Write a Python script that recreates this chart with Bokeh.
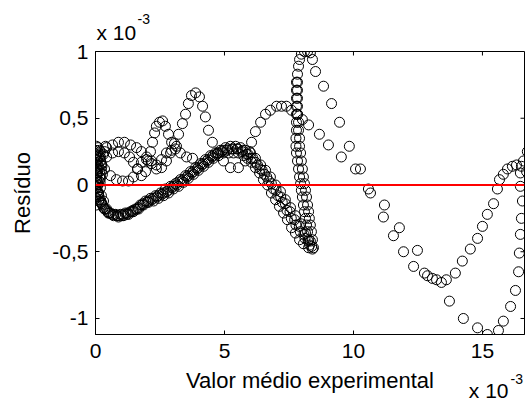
from bokeh.plotting import figure
from bokeh.models import Range1d, FixedTicker, Span, Label, Column
from bokeh.embed import file_html
from bokeh.resources import INLINE

# values in units of 1e-3 (axes show "x 10^-3")
origin_x = [0.04, 0.16, 0.04, 0.19, 0.08, 0.23, 0.04, 0.16, 0.04, 0.19, 0.08, 0.00, 0.12, 0.31, 0.39, 0.31,
            0.00, 0.08, 0.16, 0.00, 0.12, 0.23, 0.04, 0.16, 0.27, 0.08, 0.19, 0.00, 0.12, 0.04, 0.23, 0.35,
            0.10, 0.02, 0.14, 0.06, 0.20, 0.10, 0.02, 0.14, 0.25, 0.06, 0.18, 0.02]
origin_y = [0.29, 0.26, 0.23, 0.21, 0.19, 0.16, 0.13, 0.10, 0.07, 0.05, 0.02, -0.03, -0.06, -0.12, 0.29, 0.23,
            0.26, 0.24, 0.20, 0.17, 0.14, 0.11, 0.09, 0.06, 0.08, 0.00, -0.02, -0.09, -0.12, -0.15, -0.08, 0.25,
            0.28, 0.22, 0.22, 0.15, 0.18, 0.12, 0.04, 0.03, 0.14, -0.05, 0.02, -0.10]

band1_x = [0.04, 0.08, 0.16, 0.27, 0.43, 0.58, 0.78, 0.97, 1.16, 1.36, 1.55, 1.74, 1.94, 2.13, 2.33, 2.52,
           2.71, 2.91, 3.10, 3.29, 3.49, 3.68, 3.88, 4.07, 4.26, 4.46, 4.65, 4.84, 5.04, 5.23, 5.43, 5.62,
           5.81, 6.01, 6.20, 6.40, 6.59, 6.78, 6.98, 7.17, 7.36, 7.56, 7.75, 7.95, 8.14, 8.33, 8.45]
band1_y = [0.04, -0.05, -0.11, -0.15, -0.18, -0.21, -0.22, -0.22, -0.21, -0.20, -0.18, -0.15, -0.12, -0.10,
           -0.08, -0.06, -0.03, -0.01, 0.01, 0.04, 0.07, 0.10, 0.13, 0.16, 0.19, 0.22, 0.24, 0.26, 0.28,
           0.29, 0.29, 0.28, 0.26, 0.24, 0.20, 0.15, 0.11, 0.06, 0.00, -0.05, -0.11, -0.17, -0.23, -0.29,
           -0.36, -0.42, -0.47]

band2_x = [0.00, 0.12, 0.23, 0.35, 0.50, 0.70, 0.89, 1.09, 1.28, 1.47, 1.67, 1.86, 2.05, 2.25, 2.44, 2.64,
           2.83, 3.02, 3.22, 3.41, 3.60, 3.80, 3.99, 4.19, 4.38, 4.57, 4.77, 4.96, 5.16, 5.35, 5.54, 5.74,
           5.89, 6.05, 6.20, 6.36, 6.51, 6.67, 6.82, 6.98, 7.13, 7.29, 7.44, 7.60, 7.75, 7.91, 8.06, 8.26, 8.41]
band2_y = [-0.01, -0.07, -0.13, -0.18, -0.21, -0.23, -0.24, -0.23, -0.22, -0.20, -0.18, -0.15, -0.13, -0.12,
           -0.10, -0.08, -0.06, -0.03, -0.01, 0.02, 0.05, 0.08, 0.11, 0.14, 0.17, 0.20, 0.22, 0.24, 0.24,
           0.24, 0.24, 0.22, 0.20, 0.17, 0.13, 0.09, 0.04, 0.00, -0.06, -0.11, -0.16, -0.21, -0.26, -0.32,
           -0.36, -0.41, -0.44, -0.47, -0.48]

band3_x = [0.02, 0.10, 0.20, 0.31, 0.47, 0.64, 0.84, 1.03, 1.22, 1.42, 1.61, 1.80, 2.00, 2.19, 2.38, 2.58,
           2.77, 2.97, 3.16, 3.35, 3.55, 3.74, 3.94, 4.13, 4.32, 4.52, 4.71, 4.90, 5.10, 5.29, 5.48, 5.68,
           5.86, 6.03, 6.20, 6.38, 6.55, 6.72, 6.90, 7.07, 7.24, 7.42, 7.59, 7.77, 7.94, 8.12, 8.30]
band3_y = [0.01, -0.07, -0.13, -0.17, -0.20, -0.22, -0.23, -0.23, -0.22, -0.20, -0.18, -0.15, -0.13, -0.11,
           -0.09, -0.07, -0.05, -0.02, 0.00, 0.03, 0.06, 0.09, 0.12, 0.15, 0.18, 0.21, 0.23, 0.25, 0.26,
           0.27, 0.27, 0.25, 0.23, 0.20, 0.17, 0.12, 0.08, 0.03, -0.03, -0.08, -0.13, -0.19, -0.25, -0.30,
           -0.35, -0.40, -0.45]

band4_x = [0.06, 0.14, 0.24, 0.37, 0.53, 0.70, 0.88, 1.07, 1.26, 1.45, 1.65, 1.84, 2.03, 2.23, 2.42, 2.61,
           2.81, 3.00, 3.19, 3.39, 3.58, 3.78, 3.97, 4.16, 4.36, 4.55, 4.74, 4.94, 5.13, 5.33, 5.52, 5.71,
           5.91, 6.10, 6.28, 6.46, 6.64, 6.82, 7.00, 7.18, 7.36, 7.54, 7.72, 7.90, 8.08, 8.24, 8.38]
band4_y = [-0.02, -0.09, -0.14, -0.18, -0.21, -0.22, -0.23, -0.22, -0.21, -0.19, -0.17, -0.14, -0.12, -0.10,
           -0.08, -0.06, -0.04, -0.01, 0.02, 0.04, 0.07, 0.10, 0.13, 0.16, 0.19, 0.22, 0.24, 0.26, 0.27,
           0.27, 0.27, 0.26, 0.23, 0.20, 0.15, 0.11, 0.06, 0.01, -0.04, -0.09, -0.14, -0.20, -0.26, -0.31,
           -0.37, -0.42, -0.46]

column1_x = [8.41, 8.37, 8.33, 8.29, 8.26, 8.22, 8.18, 8.14, 8.10, 8.06, 8.02, 7.98, 7.95, 7.91, 7.91, 7.87,
             7.87, 7.83, 7.83, 7.83, 7.83, 7.83, 7.83, 7.87, 7.91, 7.98, 8.10, 8.22, 8.33]
column1_y = [-0.41, -0.35, -0.30, -0.25, -0.20, -0.15, -0.09, -0.04, 0.01, 0.06, 0.12, 0.18, 0.24, 0.29,
             0.35, 0.41, 0.47, 0.53, 0.59, 0.65, 0.71, 0.77, 0.83, 0.89, 0.94, 0.98, 1.00, 1.00, 0.99]

column2_x = [8.26, 8.22, 8.18, 8.14, 8.10, 8.06, 8.02, 7.98, 7.95, 7.91, 7.87, 7.83, 7.79, 7.77, 7.77, 7.79,
             7.79, 7.79, 7.79, 7.79, 7.79, 7.79]
column2_y = [-0.41, -0.35, -0.30, -0.25, -0.20, -0.15, -0.09, -0.04, 0.01, 0.06, 0.12, 0.18, 0.24, 0.29,
             0.35, 0.41, 0.47, 0.53, 0.59, 0.65, 0.71, 0.77]

top_x = [8.41, 8.53, 8.84, 9.15, 9.46, 9.84, 10.27, 10.58, 11.20, 11.78, 12.48, 12.75, 13.06, 13.41, 13.72,
         14.26, 14.81, 15.19, 15.62, 15.81, 16.09, 16.28, 16.40, 16.43, 16.47, 16.51, 16.55, 16.47, 16.47,
         16.59, 16.74]
top_y = [0.94, 0.85, 0.74, 0.61, 0.47, 0.29, 0.12, -0.03, -0.15, -0.32, -0.49, -0.66, -0.70, -0.73, -0.87,
         -1.00, -1.07, -1.12, -1.09, -1.02, -0.91, -0.79, -0.65, -0.51, -0.37, -0.25, -0.12, -0.01, 0.09,
         0.18, 0.25]

wave_a_x = [0.04, 0.19, 0.43, 0.66, 0.89, 1.12, 1.36, 1.59, 1.78, 1.98, 2.17, 2.36, 2.56, 2.75, 2.91, 3.06,
            3.22, 3.37, 3.49, 3.60, 3.72, 3.88, 4.03, 4.15, 4.26, 4.38, 4.53, 4.73, 4.96, 5.23, 5.54, 5.81,
            5.97, 6.05, 6.20, 6.40, 6.59, 6.78, 7.02, 7.21, 7.40, 7.60, 7.83, 8.02, 8.26, 8.68, 9.03, 9.53,
            10.08, 10.66, 11.16, 11.55, 11.94, 12.33, 12.87, 13.22, 13.60, 13.95, 14.22, 14.53, 14.81, 15.00,
            15.19, 15.43, 15.58, 15.66, 15.81, 15.97, 16.16, 16.32, 16.51, 16.71]
wave_a_y = [0.18, 0.25, 0.28, 0.30, 0.32, 0.32, 0.30, 0.28, 0.25, 0.21, 0.16, 0.12, 0.13, 0.18, 0.24, 0.31,
            0.38, 0.46, 0.53, 0.61, 0.67, 0.69, 0.66, 0.59, 0.51, 0.41, 0.32, 0.24, 0.18, 0.13, 0.13, 0.18,
            0.25, 0.32, 0.40, 0.47, 0.53, 0.56, 0.59, 0.59, 0.59, 0.56, 0.53, 0.49, 0.45, 0.38, 0.30, 0.21,
            0.12, -0.06, -0.24, -0.38, -0.50, -0.61, -0.68, -0.71, -0.71, -0.66, -0.57, -0.48, -0.40, -0.31,
            -0.22, -0.14, -0.03, 0.04, 0.08, 0.12, 0.14, 0.15, 0.14, 0.10]

wave_b_x = [0.08, 0.23, 0.43, 0.66, 0.89, 1.12, 1.32, 1.47, 1.63, 1.78, 1.94, 2.05, 2.13, 2.21, 2.29, 2.36,
            2.48, 2.60, 2.71, 2.83, 2.95, 3.10, 3.29, 3.53, 3.76]
wave_b_y = [0.09, 0.15, 0.21, 0.24, 0.25, 0.24, 0.21, 0.17, 0.12, 0.07, 0.10, 0.18, 0.25, 0.32, 0.39, 0.44,
            0.47, 0.48, 0.44, 0.38, 0.32, 0.27, 0.24, 0.21, 0.20]

wave_c_x = [0.35, 0.58, 0.81, 1.05, 1.28, 1.47, 1.63, 1.78, 1.98, 2.17, 2.36, 2.56, 2.75, 2.95, 3.14]
wave_c_y = [0.12, 0.07, 0.04, 0.03, 0.03, 0.06, 0.12, 0.17, 0.19, 0.18, 0.15, 0.19, 0.24, 0.26, 0.29]

x_ticks = [0, 5, 10, 15]
y_ticks = [-1, -0.5, 0, 0.5, 1]
y_tick_labels = ["-1", "-0,5", "0", "0,5", "1"]
x_label = "Valor médio experimental"
y_label = "Resíduo"
mult_base = "x 10"
mult_exp = "-3"

FONT = "Liberation Sans"
W, H = 525, 405
X_MIN, X_MAX = 0, 16.63
Y_MIN, Y_MAX = -1.12, 1.0
FRAME_W, FRAME_H = 429, 283
TICK_PX = 4
LEFT, RIGHT, TOP, BOTTOM = 95, 1, 51, 71
OV_SHIFT = 8  # the overlay sits this many pixels lower than the chart

p = figure(width=W, height=H, output_backend="svg", toolbar_location=None,
           x_range=Range1d(X_MIN, X_MAX), y_range=Range1d(Y_MIN, Y_MAX),
           min_border_left=LEFT, min_border_right=RIGHT, min_border_top=TOP, min_border_bottom=BOTTOM,
           background_fill_color="white", border_fill_color="white")
p.grid.visible = False
p.outline_line_color = "black"
p.outline_line_width = 1

series = [(origin_x, origin_y), (band1_x, band1_y), (band2_x, band2_y), (band3_x, band3_y),
          (band4_x, band4_y), (column1_x, column1_y), (column2_x, column2_y), (top_x, top_y),
          (wave_a_x, wave_a_y), (wave_b_x, wave_b_y), (wave_c_x, wave_c_y)]
for xs, ys in series:
    p.scatter(x=xs, y=ys, marker="circle", size=10, fill_color=None, line_color="black", line_width=1)

# mirrored (inward) ticks on the top and right edges of the box, from the tick lists
dy = TICK_PX * (Y_MAX - Y_MIN) / FRAME_H
dx = TICK_PX * (X_MAX - X_MIN) / FRAME_W
tx = [t for t in x_ticks if X_MIN < t < X_MAX]
ty = [t for t in y_ticks if Y_MIN < t < Y_MAX]
p.segment(x0=tx, y0=[Y_MAX] * len(tx), x1=tx, y1=[Y_MAX - dy] * len(tx), line_color="black", line_width=1)
p.segment(x0=[X_MAX] * len(ty), y0=ty, x1=[X_MAX - dx] * len(ty), y1=ty, line_color="black", line_width=1)

p.add_layout(Span(location=0, dimension="width", line_color="#ff0000", line_width=2))

for ax in (p.xaxis[0], p.yaxis[0]):
    ax.major_tick_in = TICK_PX
    ax.major_tick_out = 0
    ax.minor_tick_line_color = None
    ax.axis_line_color = "black"
    ax.major_tick_line_color = "black"
    ax.major_label_text_font = FONT
    ax.major_label_text_font_size = "21px"
    ax.major_label_text_color = "black"
    ax.axis_label_text_font = FONT
    ax.axis_label_text_font_size = "22px"
    ax.axis_label_text_font_style = "normal"
    ax.axis_label_text_color = "black"

p.xaxis.ticker = FixedTicker(ticks=x_ticks)
p.xaxis.major_label_overrides = {t: str(t) for t in x_ticks}
p.xaxis.major_label_standoff = 9
p.xaxis.axis_label = x_label
p.xaxis.axis_label_standoff = 7

p.yaxis.ticker = FixedTicker(ticks=y_ticks)
p.yaxis.major_label_overrides = {t: s for t, s in zip(y_ticks, y_tick_labels)}
p.yaxis.major_label_standoff = 7
p.yaxis.axis_label = y_label
p.yaxis.axis_label_standoff = 14

# transparent overlay of the same size, laid over the chart, carrying the "x 10^-3" scale notes;
# same horizontal frame as the chart, full height (y measured in pixels from the bottom)
ov = figure(width=W, height=H, output_backend="svg", toolbar_location=None,
            x_range=Range1d(X_MIN, X_MAX), y_range=Range1d(0, H),
            x_axis_location=None, y_axis_location=None,
            min_border_left=LEFT, min_border_right=RIGHT, min_border_top=0, min_border_bottom=0,
            background_fill_color=None, border_fill_color=None, outline_line_color=None)
ov.grid.visible = False
ov.margin = (-H, 0, 0, 0)

def note(x, x_off, baseline_from_top, text, size, align="left"):
    y = H - (baseline_from_top - OV_SHIFT)
    ov.add_layout(Label(x=x, y=y, x_offset=x_off, text=text, text_font=FONT, text_font_size=size,
                        text_align=align, text_baseline="alphabetic", text_color="black"))

note(X_MIN, 1, 40, mult_base, "21px")
note(X_MIN, 42, 26, mult_exp, "14px")
note(X_MAX, -16, 398, mult_base, "21px", align="right")
note(X_MAX, -14, 386, mult_exp, "14px")

layout = Column(children=[p, ov], spacing=0)

open("out.html", "w").write(file_html(layout, INLINE))
